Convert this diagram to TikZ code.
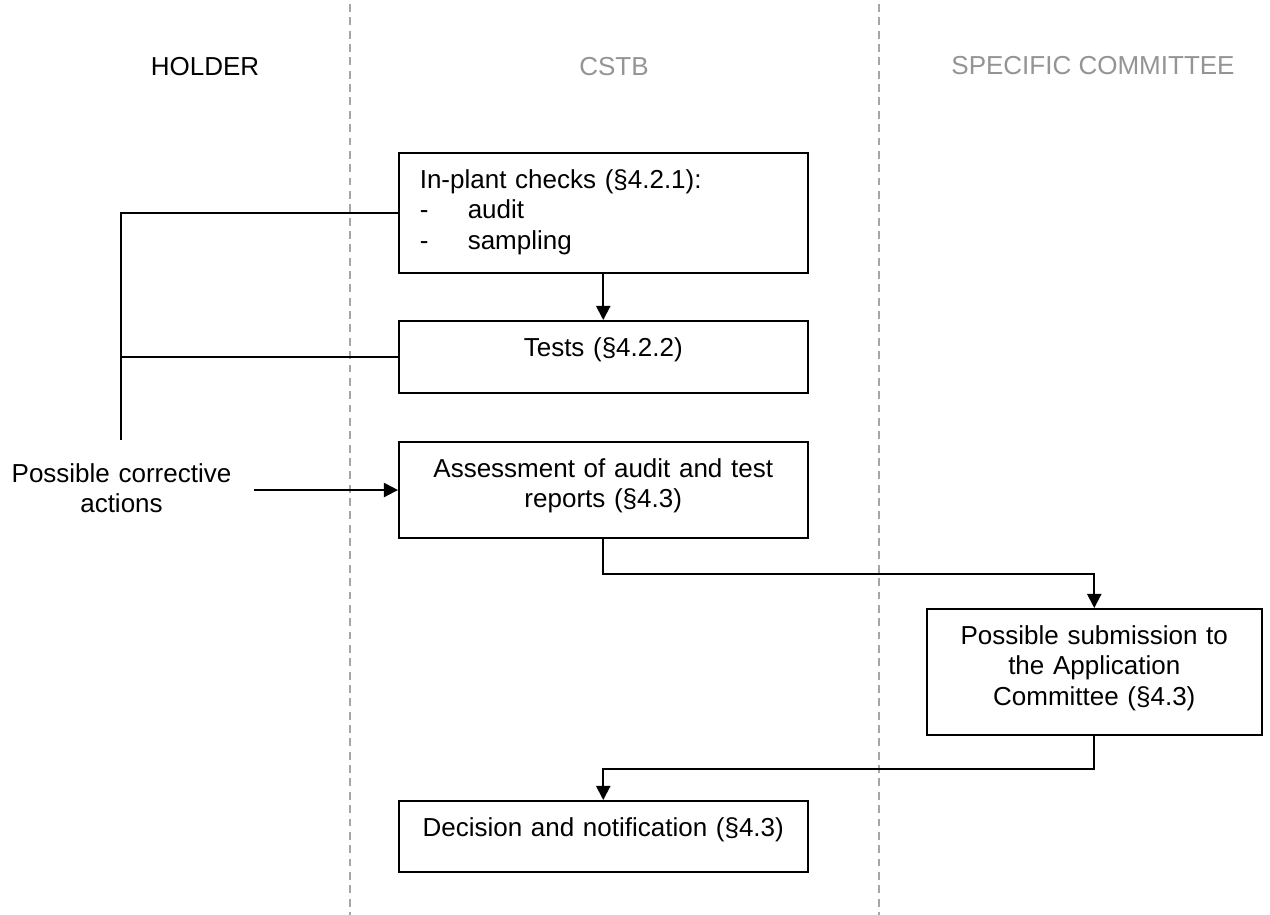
\documentclass[tikz,border=0pt]{standalone}
\usepackage{fontspec}
\setmainfont{Liberation Sans}
\usetikzlibrary{arrows.meta}
\definecolor{lanegray}{gray}{0.58}
\definecolor{sepgray}{gray}{0.65}

\begin{document}
\begin{tikzpicture}[x=0.02cm, y=-0.02cm, every node/.style={font=\fontsize{14.8pt}{17.3pt}\selectfont, inner sep=0pt}, lane/.style={anchor=base, text=lanegray}, sep/.style={draw=sepgray, line width=0.6pt, dash pattern=on 4.5pt off 3.1pt}, stage/.style={draw, line width=0.9pt, anchor=north west, text height=0.71cm, align=center}, flow/.style={line width=1.1pt, -{Triangle[length=8pt, width=8pt]}}, bracket/.style={line width=0.8pt}]
	\useasboundingbox (0,0) rectangle (1270,915);
	% lanes
	\node[lane, text=black] (holder) at (205,76) {HOLDER};
	\node[lane] (cstb) at (614,76) {CSTB};
	\node[lane] (spec) at (1093,75) {SPECIFIC COMMITTEE};
	\draw[sep] (350,4) -- (350,915);
	\draw[sep] (879,4) -- (879,915);
	% boxes
	\node[stage, align=left, inner xsep=0.42cm, text width=7.34cm, text depth=1.70cm] (chk) at (398,152) {In-plant checks (§4.2.1):\\ \makebox[0.96cm][l]{-}audit\\ \makebox[0.96cm][l]{-}sampling};
	\node[stage, text width=8.18cm, text depth=0.74cm] (tst) at (398,320) {Tests (§4.2.2)};
	\node[stage, text width=8.18cm, text depth=1.22cm] (asm) at (398,441) {Assessment of audit and test\\ reports (§4.3)};
	\node[stage, text width=6.7cm, text depth=1.82cm] (sub) at (926,608) {Possible submission to\\ the Application\\ Committee (§4.3)};
	\node[stage, text width=8.18cm, text depth=0.72cm] (dec) at (398,800) {Decision and notification (§4.3)};
	\node[align=center, text width=5.3cm, anchor=base] (act) at (121.5,482) {Possible corrective\\ actions};
	\coordinate (brk) at (121,440);
	% connectors
	\draw[bracket] (chk.west) -| (brk);
	\draw[bracket] (tst.west) -- (tst.west -| brk);
	\draw[flow] (act.east |- asm.west) -- (asm.west);
	\draw[flow] (chk.south) -- (tst.north);
	\draw[flow] (asm.south) -- ++(0,35) -| (sub.north);
	\draw[flow] (sub.south) -- ++(0,33) -| (dec.north);
\end{tikzpicture}
\end{document}
